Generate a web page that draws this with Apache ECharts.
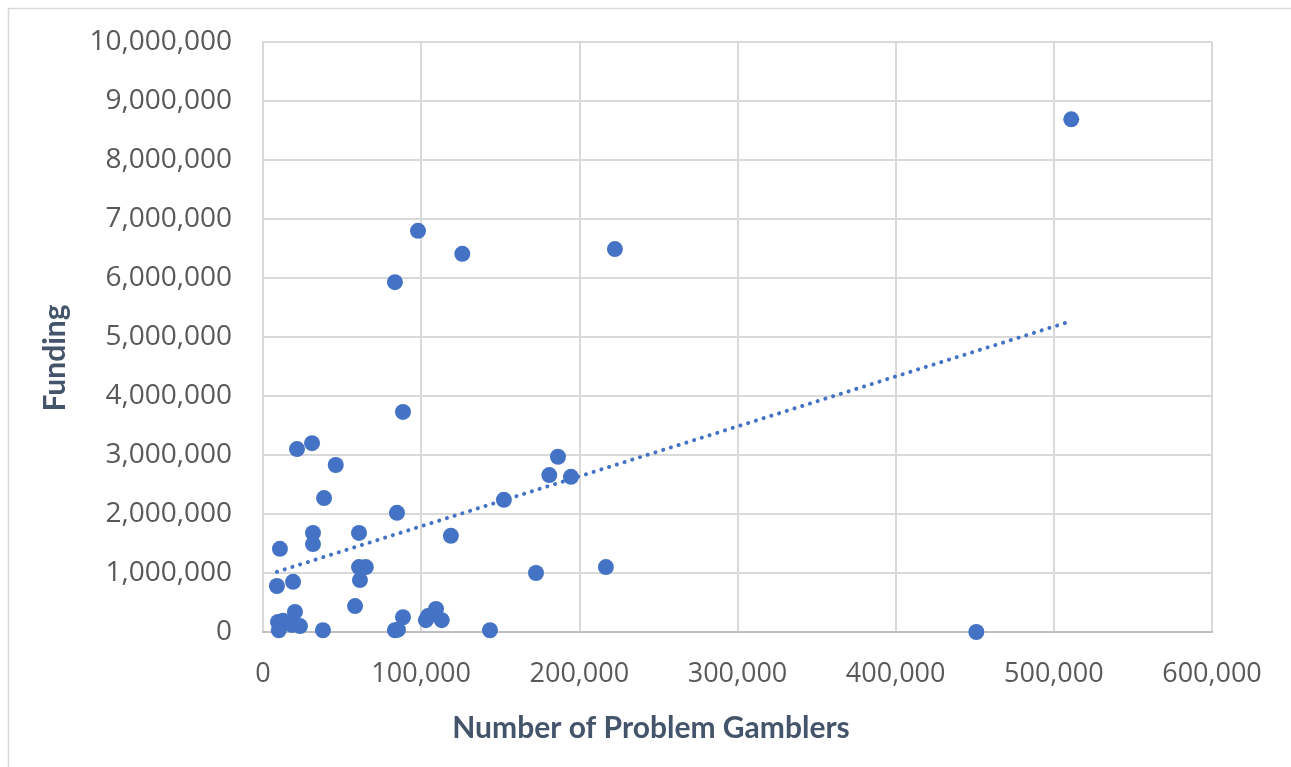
<!DOCTYPE html>
<html>
<head>
<meta charset="utf-8">
<script src="https://cdn.jsdelivr.net/npm/echarts@6/dist/echarts.min.js"></script>
<style>
html,body{margin:0;padding:0;background:#fff;}
#chart{width:1291px;height:767px;}
</style>
</head>
<body>
<div id="chart"></div>
<script>
// Number of problem gamblers (x) and funding (y)
const gamblers = [511000, 98000, 126000, 222500, 83400, 88500, 31000, 21500, 46000, 186500,
  181000, 194700, 38600, 152300, 84700, 31600, 60700, 31600, 118800, 10700,
  60700, 65000, 61300, 172600, 216800, 8800, 19000, 58200, 20200, 9500,
  12600, 10000, 18300, 23400, 37900, 83400, 85300, 88500, 103000, 104300,
  109400, 113000, 143500, 451000];
const funding = [8690000, 6800000, 6410000, 6490000, 5930000, 3730000, 3200000, 3100000, 2830000, 2970000,
  2660000, 2630000, 2270000, 2240000, 2020000, 1680000, 1680000, 1490000, 1630000, 1410000,
  1100000, 1100000, 880000, 1000000, 1100000, 780000, 850000, 440000, 340000, 170000,
  190000, 30000, 120000, 100000, 30000, 30000, 40000, 250000, 200000, 270000,
  390000, 200000, 30000, 0];
// Linear trendline end points (x, y)
const trendX = [8800, 511000];
const trendY = [1020000, 5270000];
const xTicks = [0, 100000, 200000, 300000, 400000, 500000, 600000];
const yTicks = [0, 1000000, 2000000, 3000000, 4000000, 5000000, 6000000, 7000000, 8000000, 9000000, 10000000];
const xTitle = 'Number of Problem Gamblers';
const yTitle = 'Funding';

const pts = gamblers.map((g, i) => [g, funding[i]]);
const trend = trendX.map((x, i) => [x, trendY[i]]);
const fmt = v => Number(v).toLocaleString('en-US');

const chart = echarts.init(document.getElementById('chart'));
chart.setOption({
  animation: false,
  backgroundColor: '#ffffff',
  grid: { left: 263, right: 79, top: 42, bottom: 135 },
  xAxis: {
    type: 'value', min: xTicks[0], max: xTicks[xTicks.length - 1], interval: xTicks[1] - xTicks[0],
    axisLine: { show: true, lineStyle: { color: '#bfbfbf', width: 2 } },
    axisTick: { show: false },
    splitLine: { show: true, lineStyle: { color: '#d9d9d9', width: 2 } },
    axisLabel: { formatter: fmt, color: '#595959', fontFamily: 'Open Sans', fontSize: 27, margin: 29 }
  },
  yAxis: {
    type: 'value', min: yTicks[0], max: yTicks[yTicks.length - 1], interval: yTicks[1] - yTicks[0],
    axisLine: { show: true, lineStyle: { color: '#d9d9d9', width: 2 } },
    axisTick: { show: false },
    splitLine: { show: true, lineStyle: { color: '#d9d9d9', width: 2 } },
    axisLabel: { formatter: fmt, color: '#595959', fontFamily: 'Open Sans', fontSize: 28, margin: 31 }
  },
  graphic: [
    { type: 'rect', shape: { x: 8.5, y: 8.5, width: 1400, height: 900 }, style: { fill: 'none', stroke: '#d9d9d9', lineWidth: 1.5 }, silent: true, z: -10 },
    { type: 'text', x: 651, y: 728, style: { text: xTitle, fill: '#44546A', font: 'bold 30px Lato', textAlign: 'center', textVerticalAlign: 'middle' } },
    { type: 'text', x: 55, y: 358, rotation: Math.PI / 2, style: { text: yTitle, fill: '#44546A', font: 'bold 30px Lato', textAlign: 'center', textVerticalAlign: 'middle' } }
  ],
  series: [
    {
      type: 'scatter', data: pts, symbol: 'circle', symbolSize: 16,
      itemStyle: { color: '#4472C4', opacity: 1 }, z: 3
    },
    {
      type: 'line', data: trend, symbol: 'none', silent: true,
      lineStyle: { color: '#4472C4', width: 4, type: [0.1, 8], cap: 'round' }, z: 2
    }
  ]
});
</script>
</body>
</html>
